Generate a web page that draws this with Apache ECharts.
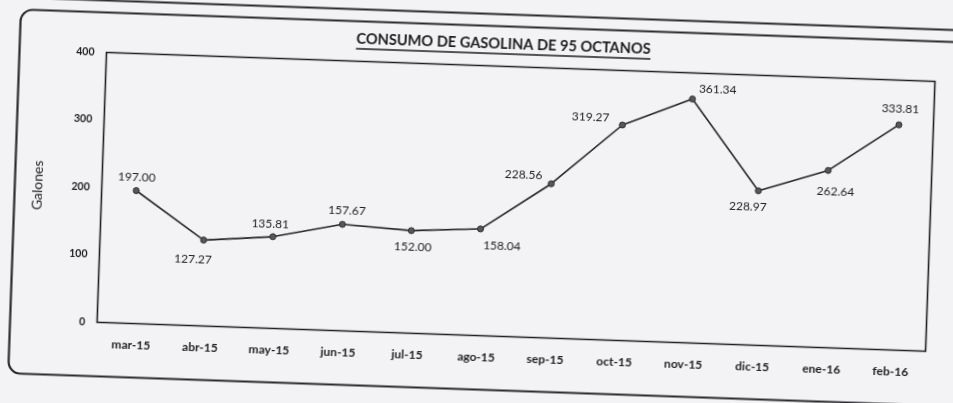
<!DOCTYPE html>
<html>
<head>
<meta charset="utf-8">
<script src="https://cdn.jsdelivr.net/npm/echarts@6/dist/echarts.min.js"></script>
<style>
  html, body { margin: 0; padding: 0; width: 953px; height: 403px; overflow: hidden; background: #f3f3f5; }
  #chart { position: absolute; left: -23.5px; top: -23.5px; width: 1000px; height: 450px;
           transform: rotate(2deg); transform-origin: 500px 225px; }
</style>
</head>
<body>
<div id="chart"></div>
<script>
// ---- data ----
const titleText = 'CONSUMO DE GASOLINA DE 95 OCTANOS';
const yAxisName = 'Galones';
const categories = ['mar-15','abr-15','may-15','jun-15','jul-15','ago-15','sep-15','oct-15','nov-15','dic-15','ene-16','feb-16'];
const values = [197.00, 127.27, 135.81, 157.67, 152.00, 158.04, 228.56, 319.27, 361.34, 228.97, 262.64, 333.81];
const yMin = 0, yMax = 400, yStep = 100;

// ---- label styling (offsets from point centre) ----
const labelOffsets = [[0,-13],[-10,20],[-3,-13],[4,-14],[2,16],[22,16],[-28,-8],[-32,-7],[25,-10],[-10,16],[8,21],[1,-16]];

const chart = echarts.init(document.getElementById('chart'), null, { renderer: 'canvas' });
const FONT = 'Lato, "Open Sans", sans-serif';
const ink = '#1e1e22';
const TITLE_SIZE = 14.6;

// measure title width for underline
const cv = document.createElement('canvas').getContext('2d');
cv.font = 'bold ' + TITLE_SIZE + 'px Lato';
const tw = cv.measureText(titleText).width;
const tcx = 521, tcy = 66;

chart.setOption({
  backgroundColor: 'transparent',
  animation: false,
  graphic: [
    { type: 'text', x: tcx, y: tcy,
      style: { text: titleText, align: 'center', verticalAlign: 'middle',
               font: 'bold ' + TITLE_SIZE + 'px Lato', fill: ink } },
    { type: 'line', shape: { x1: tcx - tw/2, y1: tcy + 10, x2: tcx + tw/2, y2: tcy + 10 },
      style: { stroke: ink, lineWidth: 1.3 } },
    { type: 'rect', shape: { x: 37.5, y: 48.5, width: 1000, height: 364, r: 12 },
      style: { fill: 'none', stroke: '#2a2a2e', lineWidth: 2.2 } },
    { type: 'line', shape: { x1: 0, y1: 36.5, x2: 1000, y2: 36.5 },
      style: { stroke: '#2a2a2e', lineWidth: 2 } }
  ],
  grid: {
    left: 124.5, right: 46.5, top: 88.5, bottom: 91.5,
    show: true, borderColor: ink, borderWidth: 1.6, backgroundColor: 'transparent'
  },
  xAxis: {
    type: 'category',
    data: categories,
    boundaryGap: true,
    axisLine: { show: false },
    axisTick: { show: false },
    axisLabel: { margin: 16, fontFamily: FONT, fontSize: 12, fontWeight: 'bold', color: ink }
  },
  yAxis: {
    type: 'value',
    min: yMin, max: yMax, interval: yStep,
    name: yAxisName,
    nameLocation: 'middle',
    nameGap: 57,
    nameTextStyle: { fontFamily: FONT, fontSize: 14, color: ink },
    axisLine: { show: false },
    axisTick: { show: false },
    splitLine: { show: false },
    axisLabel: { margin: 12, fontFamily: FONT, fontSize: 10.5, fontWeight: 'bold', color: ink }
  },
  series: [{
    type: 'line',
    data: values.map((v, i) => ({
      value: v,
      label: { offset: labelOffsets[i] }
    })),
    symbol: 'circle',
    symbolSize: 6,
    lineStyle: { color: '#262629', width: 1.6 },
    itemStyle: { color: '#58585c', borderColor: '#2a2a2e', borderWidth: 1 },
    label: {
      show: true,
      position: 'inside',
      formatter: p => p.value.toFixed(2),
      fontFamily: FONT, fontSize: 12, color: ink
    }
  }]
});
</script>
</body>
</html>
